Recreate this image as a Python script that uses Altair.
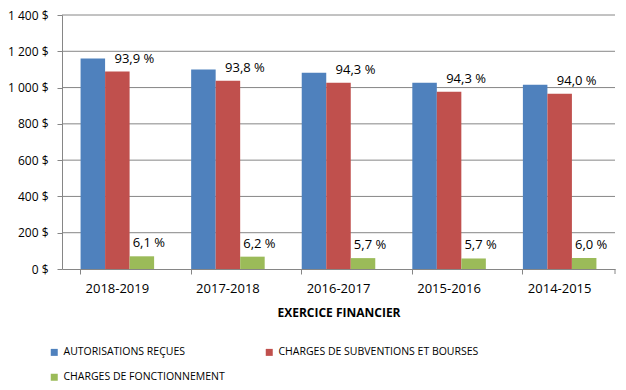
import altair as alt
import pandas as pd

years = ["2018-2019", "2017-2018", "2016-2017", "2015-2016", "2014-2015"]
series_names = ["AUTORISATIONS REÇUES", "CHARGES DE SUBVENTIONS ET BOURSES", "CHARGES DE FONCTIONNEMENT"]
legend_order = ["AUTORISATIONS REÇUES", "CHARGES DE FONCTIONNEMENT", "CHARGES DE SUBVENTIONS ET BOURSES"]
colors = ["#4F81BD", "#C0504D", "#9BBB59"]

autorisations = [1160, 1100, 1082, 1027, 1016]
subventions = [1088, 1038, 1027, 977, 966]
fonctionnement = [70, 68, 60, 58, 60]

pct_subventions = [93.9, 93.8, 94.3, 94.3, 94.0]
pct_fonctionnement = [6.1, 6.2, 5.7, 5.7, 6.0]

y_ticks = [0, 200, 400, 600, 800, 1000, 1200, 1400]

rows = []
for i, y in enumerate(years):
    for s, vals in zip(series_names, [autorisations, subventions, fonctionnement]):
        rows.append({"year": y, "series": s, "value": vals[i]})
df = pd.DataFrame(rows)

def fmt(v):
    return f"{v:.1f}".replace(".", ",") + " %"

top_rows = [{"year": y, "series": series_names[1], "value": subventions[i], "label": fmt(pct_subventions[i])} for i, y in enumerate(years)]
bot_rows = [{"year": y, "series": series_names[2], "value": fonctionnement[i], "label": fmt(pct_fonctionnement[i])} for i, y in enumerate(years)]
df_top = pd.DataFrame(top_rows)
df_bot = pd.DataFrame(bot_rows)
df_grid = pd.DataFrame({"value": y_ticks[1:]})

FONT = "Open Sans"
W, H = 553, 254

x_enc = alt.X("year:N", sort=years, title="EXERCICE FINANCIER",
              scale=alt.Scale(paddingInner=0.335, paddingOuter=0.168),
              axis=alt.Axis(labelAngle=0, bandPosition=0, tickSize=5, labelPadding=8,
                            titlePadding=12, grid=False))
xo_enc = alt.XOffset("series:N", sort=series_names,
                     scale=alt.Scale(domain=series_names, paddingInner=0, paddingOuter=0))
y_enc = alt.Y("value:Q", title=None,
              scale=alt.Scale(domain=[0, 1400], nice=False),
              axis=alt.Axis(values=y_ticks, tickSize=5, labelPadding=9, grid=False,
                            labelOverlap=False, labelFontSize=12,
                            labelExpr="replace(format(datum.value, ','), ',', ' ') + ' $'"))

grid = alt.Chart(df_grid).mark_rule(color="#868686", strokeWidth=1).encode(y=y_enc)

bars = alt.Chart(df).mark_bar().encode(
    x=x_enc,
    xOffset=xo_enc,
    y=y_enc,
    color=alt.Color("series:N", sort=series_names,
                    scale=alt.Scale(domain=series_names, range=colors),
                    legend=alt.Legend(title=None, orient="none", legendX=-13, legendY=332,
                                      values=legend_order,
                                      columns=2, columnPadding=39, rowPadding=14,
                                      symbolType="square", symbolSize=49, symbolStrokeWidth=0,
                                      labelFontSize=10.5, labelFont=FONT, labelColor="#000000",
                                      labelOffset=4, labelLimit=0)),
)

top_labels = alt.Chart(df_top).mark_text(baseline="bottom", dx=17, dy=-6, fontSize=13, font=FONT, color="#000000").encode(
    x=x_enc, xOffset=xo_enc, y=y_enc, text="label:N")

bot_labels = alt.Chart(df_bot).mark_text(baseline="bottom", dx=7, dy=-6, fontSize=13, font=FONT, color="#000000").encode(
    x=x_enc, xOffset=xo_enc, y=y_enc, text="label:N")

end_tick = alt.Chart(pd.DataFrame({"a": [0]})).mark_rule(color="#868686").encode(
    x=alt.value(W), y=alt.value(H), y2=alt.value(H + 5))

chart = alt.layer(grid, bars, top_labels, bot_labels, end_tick).properties(
    width=W, height=H,
    autosize=alt.AutoSizeParams(type="none"),
    padding={"left": 54, "top": 7, "right": 3, "bottom": 113},
).configure_view(stroke=None).configure_axis(
    labelFont=FONT, labelFontSize=13, labelColor="#000000",
    titleFont=FONT, titleFontSize=12, titleColor="#000000", titleFontWeight="bold",
    domainColor="#868686", tickColor="#868686",
)

chart.save("out.html", embed_options={"renderer": "svg", "actions": False})
